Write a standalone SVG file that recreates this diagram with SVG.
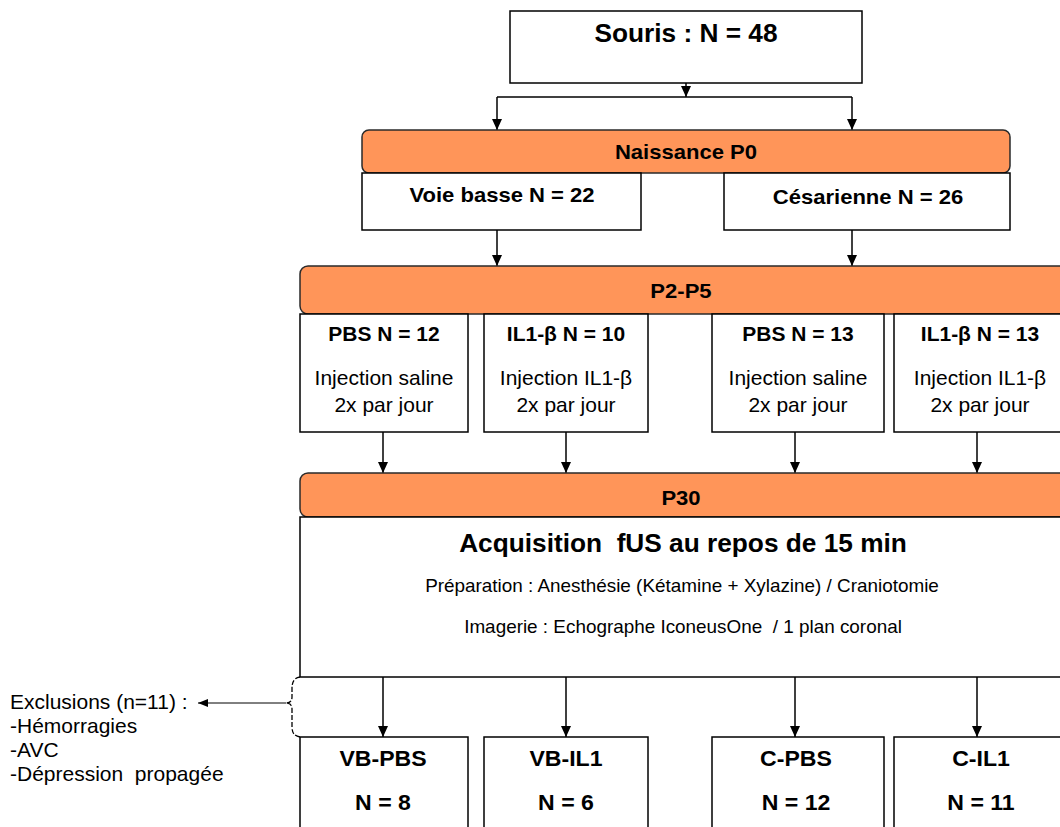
<svg xmlns="http://www.w3.org/2000/svg" width="1060" height="827" viewBox="0 0 1060 827">
<defs>
<style>
.box{fill:#fff;stroke:#000;stroke-width:1.5}
.bar{fill:#FF9559;stroke:#2a2a2a;stroke-width:1.5}
.b{font-family:"Liberation Sans",Arial,sans-serif;font-weight:bold;fill:#000;text-anchor:middle;white-space:pre}
.r{font-family:"Liberation Sans",Arial,sans-serif;fill:#000;text-anchor:middle;white-space:pre}
.l{font-family:"Liberation Sans",Arial,sans-serif;fill:#000;font-size:20px;white-space:pre}
.c{stroke:#000;stroke-width:1.5;fill:none}
</style>
<marker id="ah" markerWidth="12" markerHeight="12" refX="11" refY="5.5" orient="auto" markerUnits="userSpaceOnUse">
<path d="M0,0.5 L11,5.5 L0,10.5 Z" fill="#000"/>
</marker>
<marker id="ahs" markerWidth="12" markerHeight="12" refX="10" refY="5" orient="auto" markerUnits="userSpaceOnUse">
<path d="M0,1 L10,5 L0,9 Z" fill="#000"/>
</marker>
</defs>
<rect width="1060" height="827" fill="#fff"/>

<g id="connectors">
<line class="c" x1="686" y1="83" x2="686" y2="97" marker-end="url(#ah)"/>
<line class="c" x1="497" y1="97" x2="852" y2="97"/>
<line class="c" x1="497" y1="97" x2="497" y2="130" marker-end="url(#ah)"/>
<line class="c" x1="852" y1="97" x2="852" y2="130" marker-end="url(#ah)"/>
<line class="c" x1="497" y1="230" x2="497" y2="266" marker-end="url(#ah)"/>
<line class="c" x1="852" y1="230" x2="852" y2="266" marker-end="url(#ah)"/>
<line class="c" x1="383" y1="432" x2="383" y2="473" marker-end="url(#ah)"/>
<line class="c" x1="566" y1="432" x2="566" y2="473" marker-end="url(#ah)"/>
<line class="c" x1="795" y1="432" x2="795" y2="473" marker-end="url(#ah)"/>
<line class="c" x1="977" y1="432" x2="977" y2="473" marker-end="url(#ah)"/>
<line class="c" x1="383" y1="677" x2="383" y2="737" marker-end="url(#ah)"/>
<line class="c" x1="566" y1="677" x2="566" y2="737" marker-end="url(#ah)"/>
<line class="c" x1="795" y1="677" x2="795" y2="737" marker-end="url(#ah)"/>
<line class="c" x1="977" y1="677" x2="977" y2="737" marker-end="url(#ah)"/>
<path d="M300,677 Q292,678 292,688 L292,697 Q292,703 286,703 Q292,703 292,709 L292,727 Q292,736 300,737" fill="none" stroke="#000" stroke-width="1.3" stroke-dasharray="5,2"/>
<line x1="286" y1="703" x2="198" y2="703" stroke="#000" stroke-width="1" marker-end="url(#ahs)"/>
</g>

<g id="souris">
<rect class="box" x="510" y="11" width="352" height="72"/>
<text class="b" font-size="25" transform="translate(686 42) scale(1.05 1)">Souris : N = 48</text>
</g>

<g id="naissance">
<rect class="bar" x="362" y="130" width="648" height="43" rx="7"/>
<text class="b" font-size="21" transform="translate(686 159) scale(1.05 1)">Naissance P0</text>
</g>

<g id="voie-basse">
<rect class="box" x="362" y="173" width="279" height="57"/>
<text class="b" font-size="21" transform="translate(502 202) scale(1.05 1)">Voie basse N = 22</text>
</g>

<g id="cesarienne">
<rect class="box" x="724" y="173" width="286" height="57"/>
<text class="b" font-size="21" transform="translate(868 204) scale(1.05 1)">Césarienne N = 26</text>
</g>

<g id="p2p5">
<rect class="bar" x="300" y="266" width="780" height="48" rx="8"/>
<text class="b" font-size="21" transform="translate(681 298) scale(1.05 1)">P2-P5</text>
</g>

<g id="vb-pbs-inj">
<rect class="box" x="300" y="314" width="168" height="118"/>
<text class="b" font-size="20" transform="translate(384 341) scale(1.05 1)">PBS N = 12</text>
<text class="r" font-size="20" transform="translate(384 385) scale(1.05 1)">Injection saline</text>
<text class="r" font-size="20" transform="translate(384 412) scale(1.05 1)">2x par jour</text>
</g>

<g id="vb-il1-inj">
<rect class="box" x="484" y="314" width="164" height="118"/>
<text class="b" font-size="20" transform="translate(566 341) scale(1.05 1)">IL1-β N = 10</text>
<text class="r" font-size="20" transform="translate(566 385) scale(1.05 1)">Injection IL1-β</text>
<text class="r" font-size="20" transform="translate(566 412) scale(1.05 1)">2x par jour</text>
</g>

<g id="c-pbs-inj">
<rect class="box" x="712" y="314" width="172" height="118"/>
<text class="b" font-size="20" transform="translate(798 341) scale(1.05 1)">PBS N = 13</text>
<text class="r" font-size="20" transform="translate(798 385) scale(1.05 1)">Injection saline</text>
<text class="r" font-size="20" transform="translate(798 412) scale(1.05 1)">2x par jour</text>
</g>

<g id="c-il1-inj">
<rect class="box" x="894" y="314" width="180" height="118"/>
<text class="b" font-size="20" transform="translate(980 341) scale(1.05 1)">IL1-β N = 13</text>
<text class="r" font-size="20" transform="translate(980 385) scale(1.05 1)">Injection IL1-β</text>
<text class="r" font-size="20" transform="translate(980 412) scale(1.05 1)">2x par jour</text>
</g>

<g id="p30">
<rect class="bar" x="300" y="473" width="780" height="44" rx="8"/>
<text class="b" font-size="21" transform="translate(681 505) scale(1.05 1)">P30</text>
</g>

<g id="acquisition">
<rect class="box" x="300" y="517" width="780" height="160"/>
<text class="b" font-size="25" transform="translate(683 552) scale(1.05 1)" xml:space="preserve">Acquisition  fUS au repos de 15 min</text>
<text class="r" font-size="18" transform="translate(682 592) scale(1.05 1)">Préparation : Anesthésie (Kétamine + Xylazine) / Craniotomie</text>
<text class="r" font-size="18" transform="translate(683 633) scale(1.05 1)" xml:space="preserve">Imagerie : Echographe IconeusOne  / 1 plan coronal</text>
</g>

<g id="exclusions">
<text class="l" transform="translate(10 709) scale(1.05 1)">Exclusions (n=11) :</text>
<text class="l" transform="translate(10 733) scale(1.05 1)">-Hémorragies</text>
<text class="l" transform="translate(10 757) scale(1.05 1)">-AVC</text>
<text class="l" transform="translate(10 781) scale(1.05 1)" xml:space="preserve">-Dépression  propagée</text>
</g>

<g id="vb-pbs">
<rect class="box" x="300" y="737" width="168" height="100"/>
<text class="b" font-size="22" transform="translate(383 766) scale(1.05 1)">VB-PBS</text>
<text class="b" font-size="22" transform="translate(383 810) scale(1.05 1)">N = 8</text>
</g>

<g id="vb-il1">
<rect class="box" x="484" y="737" width="164" height="100"/>
<text class="b" font-size="22" transform="translate(566 766) scale(1.05 1)">VB-IL1</text>
<text class="b" font-size="22" transform="translate(566 810) scale(1.05 1)">N = 6</text>
</g>

<g id="c-pbs">
<rect class="box" x="712" y="737" width="172" height="100"/>
<text class="b" font-size="22" transform="translate(796 766) scale(1.05 1)">C-PBS</text>
<text class="b" font-size="22" transform="translate(796 810) scale(1.05 1)">N = 12</text>
</g>

<g id="c-il1">
<rect class="box" x="894" y="737" width="180" height="100"/>
<text class="b" font-size="22" transform="translate(981 766) scale(1.05 1)">C-IL1</text>
<text class="b" font-size="22" transform="translate(981 810) scale(1.05 1)">N = 11</text>
</g>
</svg>
